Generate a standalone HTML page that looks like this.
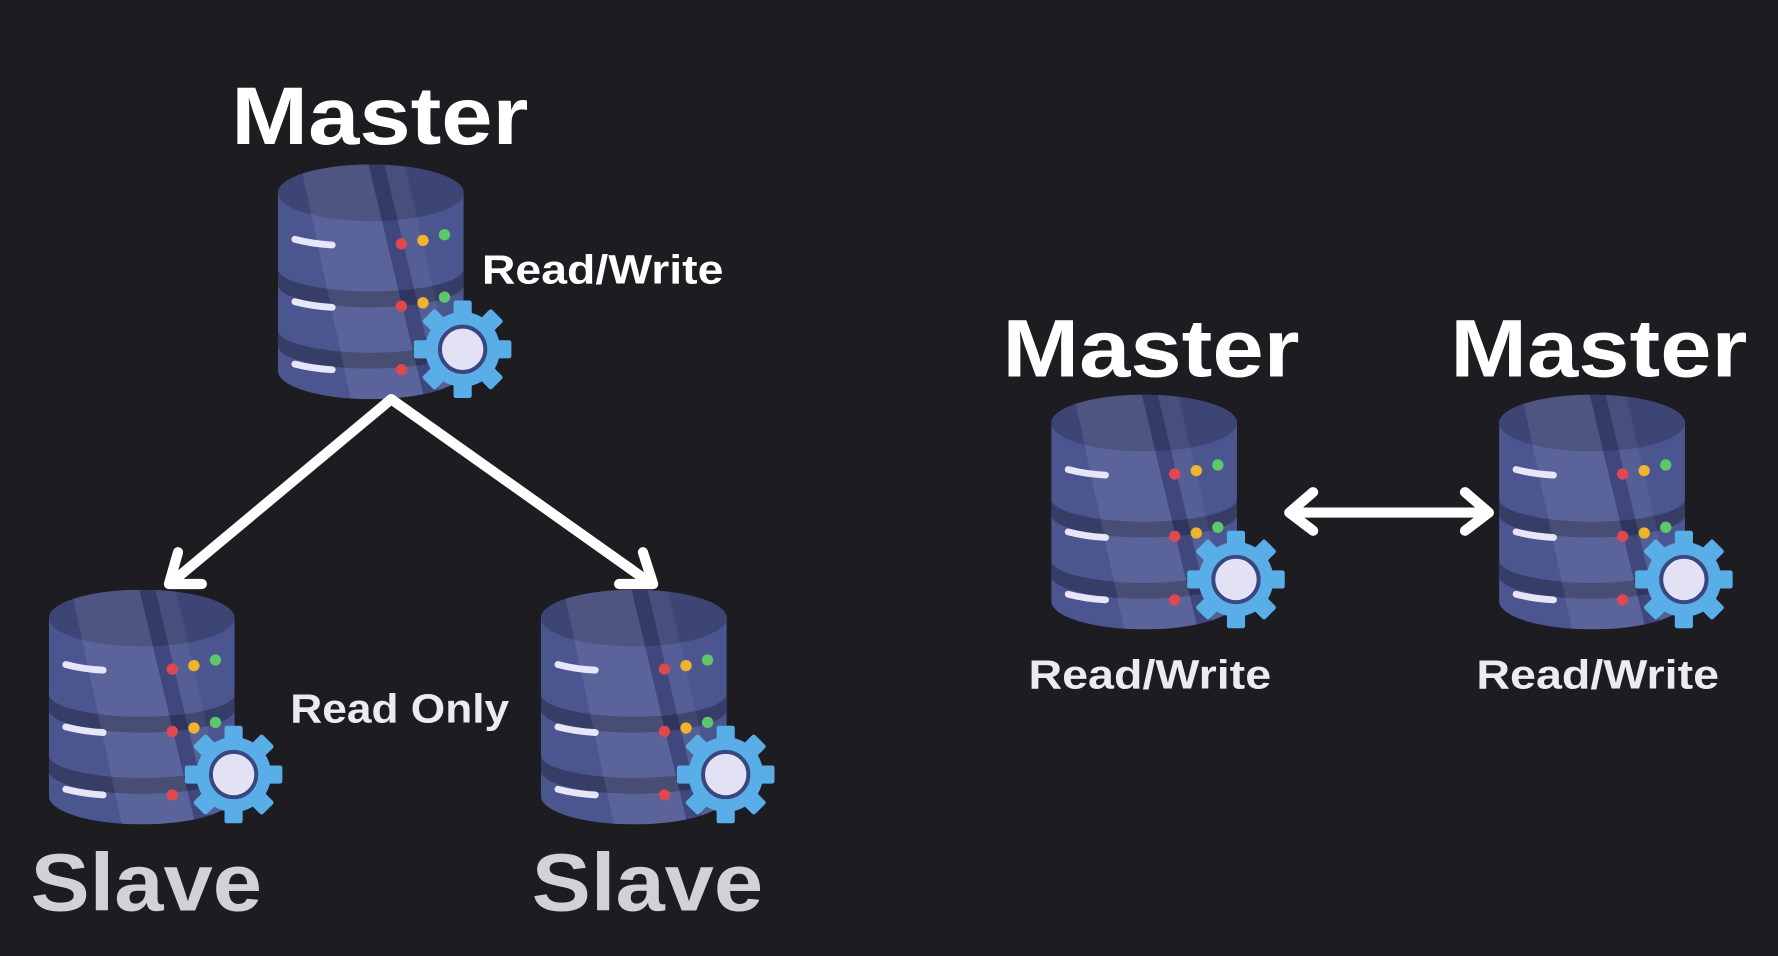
<!DOCTYPE html>
<html><head><meta charset="utf-8"><style>
html,body{margin:0;padding:0;background:#1c1c21;}
svg{display:block}
text{font-family:"Liberation Sans",sans-serif;font-weight:bold;}
</style></head><body>
<svg width="1778" height="956" viewBox="0 0 1568 843" xmlns="http://www.w3.org/2000/svg">
<rect width="1568" height="843" fill="#1c1c21"/>
<defs>
<g id="gear">
  <g fill="#5aaee8">
    <circle r="33"/>
    <rect x="-8" y="-43" width="16" height="16" rx="2"/>
    <rect x="-8" y="-43" width="16" height="16" rx="2" transform="rotate(45)"/>
    <rect x="-8" y="-43" width="16" height="16" rx="2" transform="rotate(90)"/>
    <rect x="-8" y="-43" width="16" height="16" rx="2" transform="rotate(135)"/>
    <rect x="-8" y="-43" width="16" height="16" rx="2" transform="rotate(180)"/>
    <rect x="-8" y="-43" width="16" height="16" rx="2" transform="rotate(225)"/>
    <rect x="-8" y="-43" width="16" height="16" rx="2" transform="rotate(270)"/>
    <rect x="-8" y="-43" width="16" height="16" rx="2" transform="rotate(315)"/>
  </g>
  <circle r="20" fill="#e2e2f4" stroke="#3a4680" stroke-width="3.5"/>
</g>
<clipPath id="cyl"><path d="M0 25 A82 25 0 0 1 164 25 L164 182 A82 25 0 0 1 0 182 Z"/></clipPath>
<g id="db">
  <g clip-path="url(#cyl)">
    <rect x="0" y="0" width="164" height="210" fill="#4b5590"/>
    <path d="M0 92 A82 20 0 0 0 164 92 L164 106 A82 20 0 0 1 0 106 Z" fill="#363d66"/>
    <path d="M0 146 A82 20 0 0 0 164 146 L164 160 A82 20 0 0 1 0 160 Z" fill="#363d66"/>
    <ellipse cx="82" cy="25" rx="82" ry="25" fill="#3d4574"/>
    <polygon points="20,0 80,0 130,210 65,210" fill="#ffffff" opacity="0.09"/>
    <polygon points="80,0 94,0 144,210 130,210" fill="#1c2040" opacity="0.25"/>
    <polygon points="94,0 112,0 160,210 144,210" fill="#ffffff" opacity="0.06"/>
  </g>
  <g stroke="#e6e6f8" stroke-width="6" stroke-linecap="round" fill="none">
    <path d="M15 66 Q30 70 48 71"/>
    <path d="M15 121 Q30 125 48 126"/>
    <path d="M15 176 Q30 180 48 181"/>
  </g>
  <circle cx="109" cy="70" r="5" fill="#e0484f"/>
  <circle cx="128" cy="67" r="5" fill="#f0b42c"/>
  <circle cx="147" cy="62" r="5" fill="#5cc86a"/>
  <circle cx="109" cy="125" r="5" fill="#e0484f"/>
  <circle cx="128" cy="122" r="5" fill="#f0b42c"/>
  <circle cx="147" cy="117" r="5" fill="#5cc86a"/>
  <circle cx="109" cy="181" r="5" fill="#e0484f"/>
  <use href="#gear" x="163" y="163"/>
</g>
</defs>

<!-- left tree -->
<text x="204" y="127" font-size="72" fill="#ffffff" textLength="262" lengthAdjust="spacingAndGlyphs">Master</text>
<use href="#db" x="245" y="145"/>
<text x="425" y="250" font-size="36" fill="#ffffff" textLength="213" lengthAdjust="spacingAndGlyphs">Read/Write</text>

<g stroke="#ffffff" stroke-width="9" stroke-linecap="round" stroke-linejoin="round" fill="none">
  <line x1="345" y1="352" x2="152" y2="513"/>
  <polyline points="157,487 149,515 178,515"/>
  <line x1="345" y1="352" x2="572" y2="513"/>
  <polyline points="567,487 576,515 546,515"/>
</g>

<use href="#db" x="43" y="520"/>
<use href="#db" x="477" y="520"/>
<text x="256" y="637" font-size="36" fill="#ececf0" textLength="193" lengthAdjust="spacingAndGlyphs">Read Only</text>
<text x="27" y="803" font-size="72" fill="#d2d2d6" textLength="204" lengthAdjust="spacingAndGlyphs">Slave</text>
<text x="469" y="803" font-size="72" fill="#d2d2d6" textLength="204" lengthAdjust="spacingAndGlyphs">Slave</text>

<!-- right pair -->
<text x="884" y="332" font-size="72" fill="#ffffff" textLength="262" lengthAdjust="spacingAndGlyphs">Master</text>
<text x="1279" y="332" font-size="72" fill="#ffffff" textLength="262" lengthAdjust="spacingAndGlyphs">Master</text>
<use href="#db" x="927" y="348"/>
<use href="#db" x="1322" y="348"/>
<g stroke="#ffffff" stroke-width="9" stroke-linecap="round" stroke-linejoin="round" fill="none">
  <line x1="1138" y1="452" x2="1312" y2="452"/>
  <polyline points="1158,434 1137,452 1158,468"/>
  <polyline points="1292,434 1313,452 1292,468"/>
</g>
<text x="907" y="607" font-size="36" fill="#ececf0" textLength="214" lengthAdjust="spacingAndGlyphs">Read/Write</text>
<text x="1302" y="607" font-size="36" fill="#ececf0" textLength="214" lengthAdjust="spacingAndGlyphs">Read/Write</text>
</svg>
</body></html>
